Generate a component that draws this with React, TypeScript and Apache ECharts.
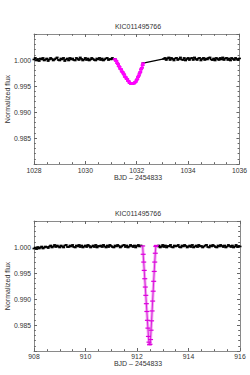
import React, { useEffect, useRef } from "react";
import * as echarts from "echarts";

const TITLE = "KIC011495766";
const X_NAME = "BJD – 2454833";
const Y_NAME = "Normalized flux";

// time step of the sampled out-of-eclipse baseline (days)
const STEP = 0.05;

// ---- top panel (BJD 1028–1036) ----
const TOP_X_RANGE = [1028, 1036];
const TOP_BASE_A_START = 1028.0;
// flux deviations from 1.0 in units of 1e-4
const TOP_BASE_A = [
  1, 4, -1, 2, -2, 3, 1, 4, -1, 1,
  3, -2, 1, 4, 2, -1, 1, 3, 5, 0,
  -1, 3, 1, 4, -2, 1, 3, -1, 4, 1,
  3, 0, -1, 4, 2, 0, 5, 2, -1, 1,
  4, 0, 3, -1, 1, 4, 2, 0, -1, 3,
  1, 4, 0, 3, -1, 1, 3, 4, 0, 2,
  1, 4, 2, 1,
];
const TOP_BASE_B_START = 1033.05;
const TOP_BASE_B = [
  2, 4, 0, 3, 5, 0, 4, 2, -1, 3,
  4, 0, 2, 5, 1, 0, 4, -1, 2, 4,
  0, 3, 4, 0, 5, 2, 0, 3, 4, -1,
  2, 4, 0, 3, 1, 4, 5, 1, 0, 3,
  -1, 4, 2, 0, 4, 1, 5, 0, 3, 4,
  0, 3, -1, 4, 2, 0, 4, 2, 0, 3,
];
const TOP_ECL_T = [
  1031.15, 1031.18, 1031.21, 1031.24, 1031.27, 1031.3, 1031.33, 1031.36, 1031.39, 1031.42,
  1031.45, 1031.48, 1031.51, 1031.54, 1031.57, 1031.6, 1031.63, 1031.66, 1031.69, 1031.72,
  1031.75, 1031.78, 1031.81, 1031.84, 1031.87, 1031.9, 1031.93, 1031.96, 1031.99, 1032.02,
  1032.05, 1032.08, 1032.11, 1032.14, 1032.17, 1032.2, 1032.23, 1032.25,
];
const TOP_ECL_F = [
  1.0002, 0.9999, 0.9998, 0.9994, 0.9992, 0.9988, 0.9987, 0.9983, 0.9982, 0.9978,
  0.9977, 0.9974, 0.9972, 0.9968, 0.9967, 0.9964, 0.9963, 0.996, 0.9959, 0.9956,
  0.9956, 0.9954, 0.9955, 0.9954, 0.9956, 0.9955, 0.9957, 0.9958, 0.9961, 0.9963,
  0.9967, 0.997, 0.9974, 0.9977, 0.9982, 0.9985, 0.999, 0.9994,
];

// ---- bottom panel (BJD 908–916) ----
const BOT_X_RANGE = [908, 916];
const BOT_BASE_A_START = 908.0;
const BOT_BASE_A = [
  -3, -1, -4, 0, -3, -1, 1, -3, -1, 1, 0, -2,
  1, 3, -1, 1, 4, 0, 3, 1, -1, 3,
  1, -1, 3, 4, 0, 0, 3, 1, 4, 0,
  -1, 3, 1, 4, 0, 3, -1, 1, 3, 0,
  4, 2, -1, 1, 3, 0, 4, -1, 2, 1,
  3, 0, 4, 1, -1, 3, 0, 4, 2, 0,
  -1, 3, 1, 4, 2, -1, 1, 3, 4, 0,
  3, -1, 1, 4, 2, 0, 3, -1, 2, 4,
  1, 3, 1,
];
const BOT_BASE_B_START = 912.8;
const BOT_BASE_B = [
  1, 3, -1, 1, 4, 0, 3, -1, 2, 1,
  4, 0, -1, 3, 1, 2, 4, 0, -1, 3,
  1, 4, 2, -1, 1, 3, 0, 4, -1, 1,
  3, 0, 4, 1, 2, -1, 1, 3, 4, 0,
  -1, 3, 1, 4, 2, 0, -1, 3, 1, 4,
  2, 0, 3, -1, 1, 4, 2, 0, 3, -1,
  1, 4, 0, 2, 1,
];
const BOT_ECL_T = [
  912.22, 912.24, 912.261, 912.281, 912.302, 912.322, 912.342, 912.363, 912.383, 912.404,
  912.424, 912.444, 912.465, 912.485, 912.506, 912.526, 912.546, 912.567, 912.587, 912.608,
  912.628, 912.648, 912.669, 912.689, 912.71, 912.73, 912.75,
];
const BOT_ECL_F = [
  1.0002, 0.9986, 0.9971, 0.9955, 0.9939, 0.9923, 0.9907, 0.9891, 0.9876, 0.9859,
  0.9844, 0.9828, 0.9817, 0.9812, 0.9813, 0.9822, 0.984, 0.9858, 0.9877, 0.9896,
  0.9915, 0.9934, 0.9953, 0.9971, 0.9988, 1.0001, 1.0003,
];

const Y_MIN = 0.98;
const Y_MAX = 1.005;

const FONT = "'Liberation Sans', Arial, Helvetica, sans-serif";
const TEXT_COLOR = "#333";
const AXIS_COLOR = "#8a8a8a";
const TICK_COLOR = "#666";

function baseline(start: number, devs: number[]): number[][] {
  return devs.map((d, i) => [+(start + i * STEP).toFixed(3), +(1 + d * 1e-4).toFixed(5)]);
}
function zipPts(t: number[], f: number[]): number[][] {
  return t.map((x, i) => [x, f[i]]);
}

const GRIDS = [
  { left: 34, right: 10, top: 34, height: 130 },
  { left: 34, right: 10, top: 221, height: 130 },
];

function xAxes(gridIndex: number, range: number[], labelMargin: number) {
  const common = {
    gridIndex,
    type: "value",
    min: range[0],
    max: range[1],
    interval: 2,
    axisLine: { show: true, onZero: false, lineStyle: { color: AXIS_COLOR, width: 1 } },
    axisTick: { show: true, inside: true, length: 3, lineStyle: { color: TICK_COLOR, width: 1 } },
    minorTick: { show: true, splitNumber: 4, length: 1.8, lineStyle: { color: TICK_COLOR, width: 1 } },
    splitLine: { show: false },
  };
  return [
    {
      ...common,
      position: "bottom",
      axisLabel: {
        show: true,
        margin: labelMargin,
        fontSize: 6.8,
        fontFamily: FONT,
        color: TEXT_COLOR,
        formatter: (v: number) => String(Math.round(v)),
      },
    },
    { ...common, position: "top", axisLabel: { show: false } },
  ];
}

function yAxes(gridIndex: number) {
  const common = {
    gridIndex,
    type: "value",
    min: Y_MIN,
    max: Y_MAX,
    interval: 0.005,
    axisLine: { show: true, onZero: false, lineStyle: { color: AXIS_COLOR, width: 1 } },
    axisTick: { show: true, inside: true, length: 3, lineStyle: { color: TICK_COLOR, width: 1 } },
    minorTick: { show: true, splitNumber: 5, length: 1.8, lineStyle: { color: TICK_COLOR, width: 1 } },
    splitLine: { show: false },
  };
  return [
    {
      ...common,
      position: "left",
      axisLabel: {
        show: true,
        margin: 3,
        fontSize: 6.8,
        fontFamily: FONT,
        color: TEXT_COLOR,
        showMinLabel: false,
        showMaxLabel: false,
        formatter: (v: number) => v.toFixed(3),
      },
    },
    { ...common, position: "right", axisLabel: { show: false } },
  ];
}

function textEl(text: string, x: number, y: number, rotation = 0) {
  return {
    type: "text",
    x,
    y,
    rotation,
    style: {
      text,
      fill: TEXT_COLOR,
      font: `7px ${FONT}`,
      textAlign: "center",
      textVerticalAlign: "middle",
    },
  };
}

export default function App() {
  const ref = useRef<HTMLDivElement>(null);

  useEffect(() => {
    if (!ref.current) return;
    const chart = echarts.init(ref.current, undefined, { renderer: "svg" });

    const topA = baseline(TOP_BASE_A_START, TOP_BASE_A);
    const topB = baseline(TOP_BASE_B_START, TOP_BASE_B);
    const topEcl = zipPts(TOP_ECL_T, TOP_ECL_F);
    const botA = baseline(BOT_BASE_A_START, BOT_BASE_A);
    const botB = baseline(BOT_BASE_B_START, BOT_BASE_B);
    const botEcl = zipPts(BOT_ECL_T, BOT_ECL_F);

    const blackLine = (data: number[][], xi: number, yi: number) => ({
      type: "line",
      xAxisIndex: xi,
      yAxisIndex: yi,
      data,
      showSymbol: true,
      symbol: "rect",
      symbolSize: [3, 1.6],
      itemStyle: { color: "#000" },
      lineStyle: { color: "#000", width: 1.2 },
      silent: true,
      z: 2,
    });

    const option: any = {
      animation: false,
      backgroundColor: "#fff",
      grid: GRIDS,
      xAxis: [...xAxes(0, TOP_X_RANGE, 3), ...xAxes(1, BOT_X_RANGE, 1.5)],
      yAxis: [...yAxes(0), ...yAxes(1)],
      series: [
        blackLine([...topA, ...topEcl, ...topB], 0, 0),
        {
          type: "line",
          xAxisIndex: 0,
          yAxisIndex: 0,
          data: topEcl,
          showSymbol: true,
          symbol: "rect",
          symbolSize: [4, 1.6],
          itemStyle: { color: "#ff00ff" },
          lineStyle: { color: "#ff22ff", width: 2.6 },
          silent: true,
          z: 3,
        },
        blackLine(botA, 2, 2),
        blackLine(botB, 2, 2),
        {
          type: "line",
          xAxisIndex: 2,
          yAxisIndex: 2,
          data: botEcl,
          showSymbol: false,
          lineStyle: { color: "#f2a6f2", width: 3 },
          silent: true,
          z: 3,
        },
        {
          type: "line",
          xAxisIndex: 2,
          yAxisIndex: 2,
          data: botEcl,
          showSymbol: true,
          symbol: "rect",
          symbolSize: [5, 1.2],
          itemStyle: { color: "#dd00dd" },
          lineStyle: { color: "#d400d4", width: 0.8 },
          silent: true,
          z: 4,
        },
      ],
      graphic: [
        textEl(TITLE, 138, 26),
        textEl(X_NAME, 138, 177.5),
        textEl(Y_NAME, 7.5, 99, Math.PI / 2),
        textEl(TITLE, 138, 213),
        textEl(X_NAME, 138, 363),
        textEl(Y_NAME, 7.5, 286, Math.PI / 2),
      ],
    };

    chart.setOption(option);
    return () => chart.dispose();
  }, []);

  return (
    <div
      ref={ref}
      style={{ position: "absolute", left: 0, top: 0, width: 250, height: 375, background: "#fff" }}
    />
  );
}
